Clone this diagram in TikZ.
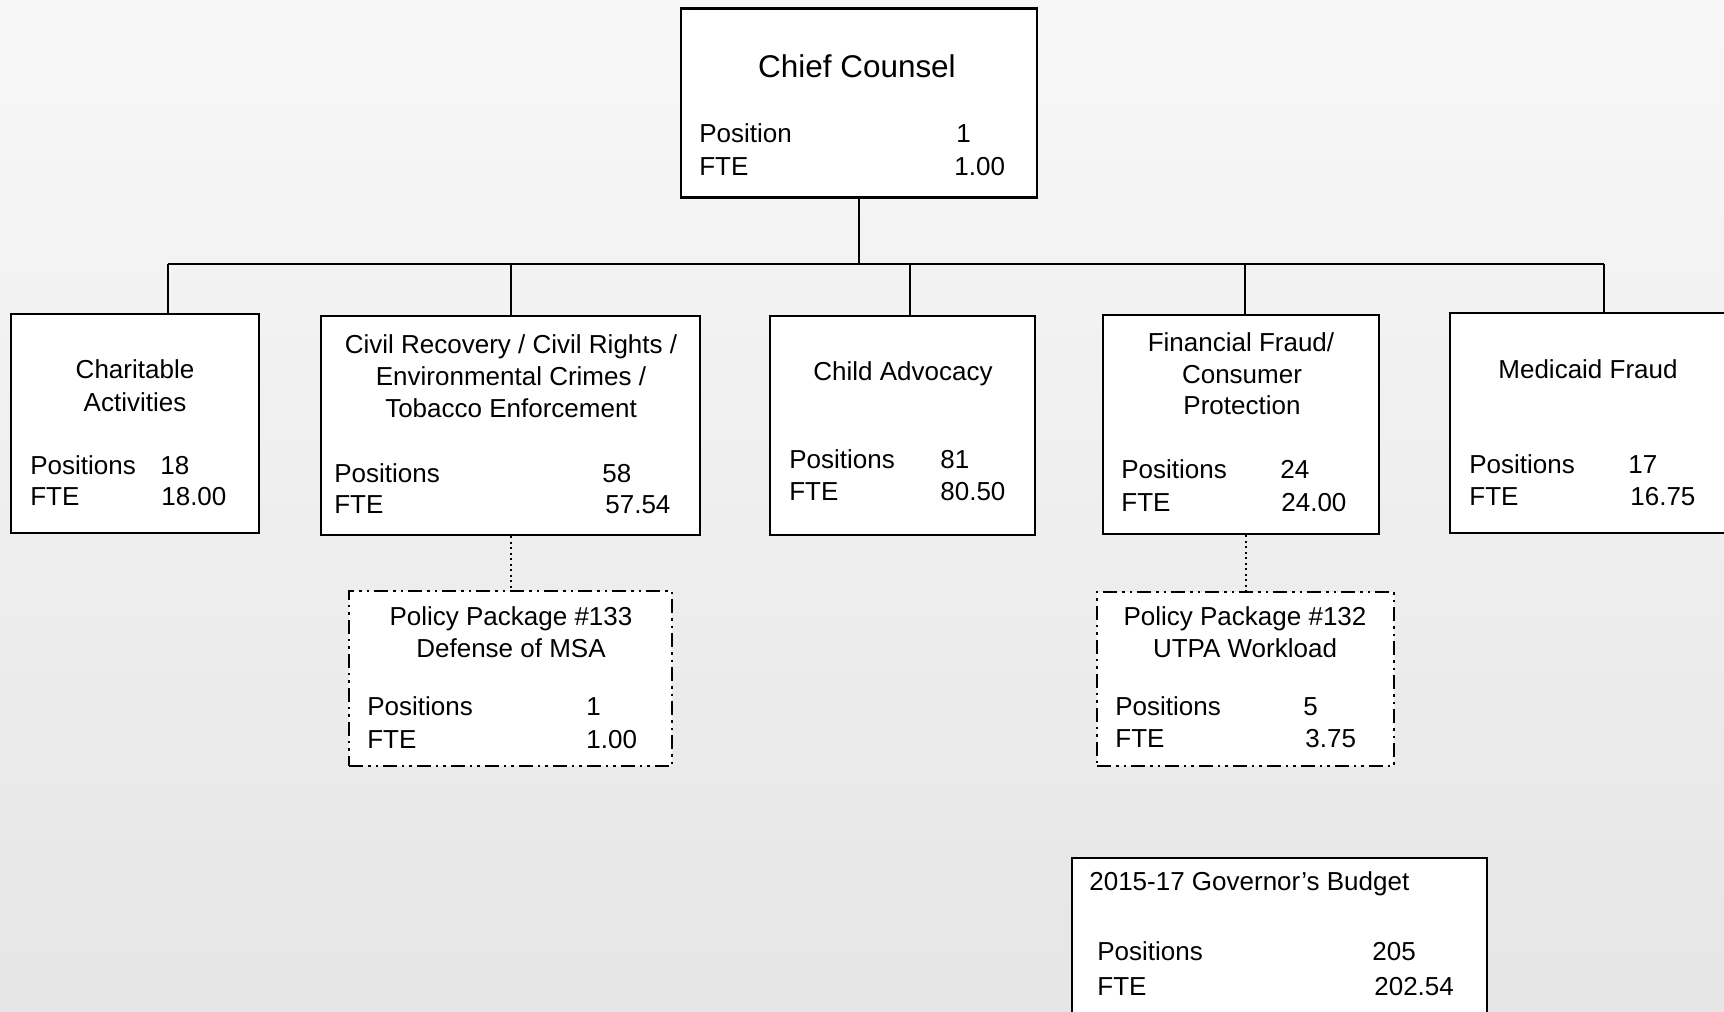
\documentclass[tikz,border=0pt]{standalone}
\usepackage{fontspec}
\setmainfont{Liberation Sans}
\usetikzlibrary{positioning}

\begin{document}
\begin{tikzpicture}[
    x=0.02cm, y=-0.02cm,
    box/.style={draw,line width=0.045cm,fill=white,inner sep=0pt},
    sized/.style 2 args={minimum width=#1*0.02cm,minimum height=#2*0.02cm},
    pkgbox/.style={box,dash pattern=on 0.28cm off 0.1cm on 0.05cm off 0.1cm on 0.05cm off 0.1cm},
    link/.style={line width=0.045cm},
    dotlink/.style={line width=0.04cm,dash pattern=on 0.04cm off 0.07cm},
    txt/.style={inner sep=0pt,anchor=base west},
    ttl/.style={inner sep=0pt,anchor=base},
    font=\fontsize{14.8}{17.8}\selectfont
    ]

    \useasboundingbox (0,0) rectangle (1724,1011);
    \clip (0,0) rectangle (1724,1011);

    % background:
    \fill[top color=gray!6,bottom color=gray!20] (0,0) rectangle (1724,1011);

    % boxes:
    \node (chief) [box,sized={356}{189}] at (858.7,103) {};
    \node (char) [box,sized={248}{219}] at (135,423.5) {};
    \node (civil) [box,sized={379}{219}] at (510.5,425.5) {};
    \node (child) [box,sized={265}{219}] at (902.5,425.5) {};
    \node (fin) [box,sized={276}{219}] at (1241,424.5) {};
    \node (medi) [box,sized={310}{220}] at (1605,423) {};
    \node (pp133) [pkgbox,sized={323}{175}] at (510.5,678.5) {};
    \node (pp132) [pkgbox,sized={297}{174}] at (1245.5,679) {};
    \node (gov) [box,sized={415}{172}] at (1279.5,944) {};

    % titles:
    \node (chiefname) [ttl,font=\fontsize{17.9}{21}\selectfont] at (857,77) {Chief Counsel};
    \foreach \n/\x/\y/\t in {
        ch1/135/378/Charitable, ch2/135/411/Activities,
        cv1/511/353/{Civil Recovery / Civil Rights /},
        cv2/511/385/{Environmental Crimes /},
        cv3/511/417/{Tobacco Enforcement},
        ca1/903/380/{Child Advocacy},
        ff1/1241/351/{Financial Fraud/}, ff2/1242/383/Consumer, ff3/1242/414/Protection,
        mf1/1588/378/{Medicaid Fraud},
        pa1/511/625/{Policy Package \#133}, pa2/511/657/{Defense of MSA},
        pb1/1245/625/{Policy Package \#132}, pb2/1245/657/{UTPA Workload}}
    \node (\n) [txt,ttl] at (\x,\y) {\t};
    \node (gv1) [txt] at (1089,890) {2015-17 Governor’s Budget};

    % positions and FTE:
    \foreach \n/\x/\y/\t in {
        cp/699/142/Position, cpv/956/142/1, cf/699/175/FTE, cfv/954/175/1.00,
        chp/30/474/Positions, chpv/160/474/18, chf/30/505/FTE, chfv/161/505/18.00,
        cvp/334/482/Positions, cvpv/602/482/58, cvf/334/513/FTE, cvfv/605/513/57.54,
        cap/789/468/Positions, capv/940/468/81, caf/789/500/FTE, cafv/940/500/80.50,
        ffp/1121/478/Positions, ffpv/1280/478/24, fff/1121/511/FTE, fffv/1281/511/24.00,
        mfp/1469/473/Positions, mfpv/1628/473/17, mff/1469/505/FTE, mffv/1630/505/16.75,
        pap/367/715/Positions, papv/586/715/1, paf/367/748/FTE, pafv/586/748/1.00,
        pbp/1115/715/Positions, pbpv/1303/715/5, pbf/1115/747/FTE, pbfv/1305/747/3.75,
        gvp/1097/960/Positions, gvpv/1372/960/205, gvf/1097/995/FTE, gvfv/1374/995/202.54}
    \node (\n) [txt] at (\x,\y) {\t};

    % connections:
    \coordinate (busl) at (168,264);
    \coordinate (busr) at (1604,264);
    \draw[link] (busl) -- (busr);
    \draw[link] (chief.south) -- (chief.south |- busl);

    \foreach \x/\n in {168/char,511/civil,910/child,1245/fin,1604/medi} {
      \coordinate (d\n) at (\x,264);
      \draw[link] (d\n) -- (d\n |- \n.north);
    }

    \draw[dotlink] (civil.south) -- (pp133.north);
    \draw[dotlink] (pp132.north |- fin.south) -- (pp132.north);

  \end{tikzpicture}
\end{document}
